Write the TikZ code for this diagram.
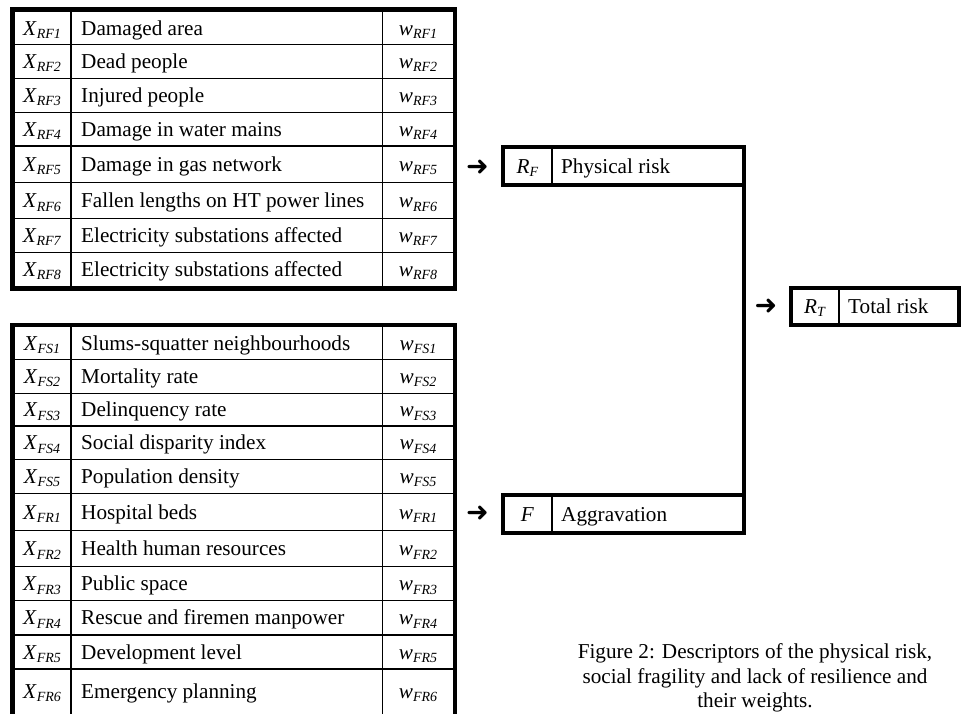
\documentclass[tikz,border=0pt]{standalone}
\usepackage{fontspec}
\setmainfont{Liberation Serif}
\newfontfamily\dvfont{DejaVu Sans}
\newcommand\symb[2]{\textit{#1}\raisebox{-0.16em}{\fontsize{14}{14}\selectfont\textit{#2}}}
\newcommand\mainsize{\fontsize{21.2}{24.5}\selectfont}
\begin{document}
\begin{tikzpicture}[x=1pt,y=-1pt,
  thickline/.style={line width=4.5pt},
  thinline/.style={line width=1.5pt},
  celltext/.style={anchor=base, inner sep=0pt, font=\mainsize},
  desctext/.style={anchor=base west, inner sep=0pt, font=\mainsize},
  boxnode/.style={draw, line width=4.5pt, outer sep=0pt, inner sep=0pt},
  arrowglyph/.style={inner sep=0pt, font=\dvfont\fontsize{27}{27}\selectfont}]
\useasboundingbox (0,0) rectangle (962,713);
\clip (0,0) rectangle (962,713);

% ---------- top table (physical risk descriptors)
\foreach \y in {44.3,78.3,112.7,146,182.7,218.7,252.3}
  \draw[thinline] (12.5,\y) -- (455,\y);
\draw[thinline] (71,9.5) -- (71,288.5);
\draw[thinline] (382.7,9.5) -- (382.7,288.5);
\draw[thickline] (12.5,9.5) rectangle (455,288.5);
\foreach \c/\s/\t [count=\i] in {
  28.2/RF1/Damaged area,
  61.3/RF2/Dead people,
  95.5/RF3/Injured people,
  129.3/RF4/Damage in water mains,
  164.3/RF5/Damage in gas network,
  200.7/RF6/Fallen lengths on HT power lines,
  235.5/RF7/Electricity substations affected,
  269.2/RF8/Electricity substations affected}{
  \node[celltext] (xa\i) at (42,\c+7) {\symb{X}{\s}};
  \node[desctext] (da\i) at (81,\c+7) {\t};
  \node[celltext] (wa\i) at (418,\c+7) {\symb{w}{\s}};
}

% ---------- bottom table (fragility / resilience descriptors)
\foreach \y in {359.3,393.3,426,459.3,493.3,530.7,566.7,600.7,635,669}
  \draw[thinline] (12.5,\y) -- (455,\y);
\draw[thinline] (71,325) -- (71,730);
\draw[thinline] (382.7,325) -- (382.7,730);
\draw[thickline] (12.5,325) rectangle (455,730);
\foreach \c/\s/\t [count=\i] in {
  343.2/FS1/Slums-squatter neighbourhoods,
  376.3/FS2/Mortality rate,
  409.7/FS3/Delinquency rate,
  442.7/FS4/Social disparity index,
  476.3/FS5/Population density,
  512/FR1/Hospital beds,
  548.7/FR2/Health human resources,
  583.7/FR3/Public space,
  617.8/FR4/Rescue and firemen manpower,
  652/FR5/Development level,
  691/FR6/Emergency planning}{
  \node[celltext] (xb\i) at (42,\c+7) {\symb{X}{\s}};
  \node[desctext] (db\i) at (81,\c+7) {\t};
  \node[celltext] (wb\i) at (418,\c+7) {\symb{w}{\s}};
}

% ---------- middle boxes
\node[boxnode, minimum width=241pt, minimum height=38pt] (rf) at (623.5,166) {};
\draw[thinline] (552,147) -- (552,185);
\node[celltext] (rfsym) at (527.5,173) {\symb{R}{F}};
\node[desctext] (rflab) at (561,173) {Physical risk};

\node[boxnode, minimum width=241pt, minimum height=38pt] (fa) at (623.5,514) {};
\draw[thinline] (552,495) -- (552,533);
\node[celltext] (fsym) at (527.5,521) {\textit{F}};
\node[desctext] (flab) at (561,521) {Aggravation};

\draw[thickline] (rf.south east) -- (fa.north east);

% ---------- total risk box
\node[boxnode, minimum width=168pt, minimum height=37pt] (rt) at (875,306.5) {};
\draw[thinline] (839,288) -- (839,325);
\node[celltext] (rtsym) at (815,313.5) {\symb{R}{T}};
\node[desctext] (rtlab) at (848,313.5) {Total risk};

% ---------- arrow glyphs
\node[arrowglyph] (arf) at (477.5,168) {➜};
\node[arrowglyph] (afa) at (477.5,514) {➜};
\node[arrowglyph] (art) at (766,307) {➜};

% ---------- caption
\node[anchor=north, align=center, inner sep=0pt, font=\mainsize] (cap) at (755,643.5)
  {Figure 2: Descriptors of the physical risk,\\social fragility and lack of resilience and\\their weights.};
\end{tikzpicture}
\end{document}
